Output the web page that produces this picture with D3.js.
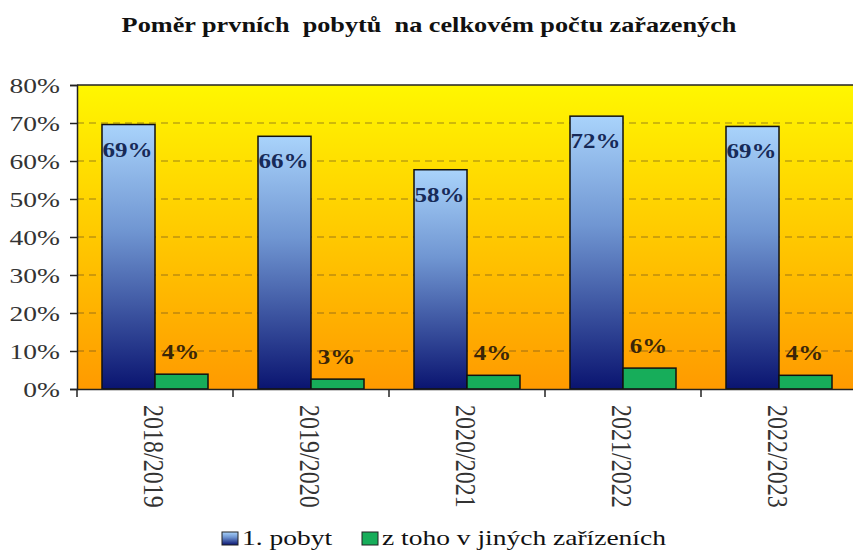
<!DOCTYPE html>
<html lang="cs">
<head>
    <meta charset="UTF-8">
    <title>Poměr prvních pobytů</title>
    <script src="https://d3js.org/d3.v7.min.js"></script>
    <style>
        body { margin: 0; background: #fff; }
        text { font-family: "Liberation Serif", "Times New Roman", serif; }
        .grid line { stroke: #6a5020; stroke-dasharray: 7,5; stroke-width: 1; opacity: 0.65; }
    </style>
</head>
<body>
    <svg width="853" height="554"></svg>
    <script>
        const width = 853, height = 554;
        const years = ["2018/2019", "2019/2020", "2020/2021", "2021/2022", "2022/2023"];
        const firstStay = [69.6, 66.5, 57.7, 71.8, 69.1];
        const otherFacility = [3.9, 2.6, 3.6, 5.5, 3.6];
        const firstLabels = ["69%", "66%", "58%", "72%", "69%"];
        const otherLabels = ["4%", "3%", "4%", "6%", "4%"];
        const seriesNames = ["1. pobyt", "z toho v jiných zařízeních"];
        const yTicks = [0, 10, 20, 30, 40, 50, 60, 70, 80];

        const svg = d3.select("svg");
        const plotLeft = 77, plotRight = 857, plotTop = 85, plotBottom = 389;
        const sx = 1.25; // the original text is drawn wide

        const defs = svg.append("defs");
        const bg = defs.append("linearGradient").attr("id", "bg")
            .attr("x1", 0).attr("y1", 0).attr("x2", 0).attr("y2", 1);
        bg.append("stop").attr("offset", "0%").attr("stop-color", "#fff700");
        bg.append("stop").attr("offset", "100%").attr("stop-color", "#ff9a00");
        const blue = defs.append("linearGradient").attr("id", "blue")
            .attr("x1", 0).attr("y1", 0).attr("x2", 0).attr("y2", 1);
        blue.append("stop").attr("offset", "0%").attr("stop-color", "#a9d3fb");
        blue.append("stop").attr("offset", "40%").attr("stop-color", "#7096d2");
        blue.append("stop").attr("offset", "100%").attr("stop-color", "#0a1470");

        const x = d3.scaleBand().domain(years).range([plotLeft, plotRight]);
        const y = d3.scaleLinear().domain([0, 80]).range([plotBottom, plotTop]);
        const barW = 53, offset = 25;

        // background
        svg.append("rect").attr("x", plotLeft).attr("y", plotTop)
            .attr("width", plotRight - plotLeft).attr("height", plotBottom - plotTop)
            .attr("fill", "url(#bg)");

        // gridlines
        svg.append("g").attr("class", "grid")
            .selectAll("line").data(yTicks.filter(d => d > 0 && d < 80)).enter()
            .append("line")
            .attr("x1", plotLeft).attr("x2", plotRight)
            .attr("y1", d => y(d)).attr("y2", d => y(d));

        svg.append("line").attr("x1", plotLeft).attr("x2", plotRight)
            .attr("y1", plotTop).attr("y2", plotTop).attr("stroke", "#222").attr("stroke-width", 1.5);

        // bars
        svg.append("g").selectAll("rect").data(years).enter().append("rect")
            .attr("x", d => x(d) + offset)
            .attr("y", (d, i) => y(firstStay[i]))
            .attr("width", barW)
            .attr("height", (d, i) => plotBottom - y(firstStay[i]))
            .attr("fill", "url(#blue)")
            .attr("stroke", "#111").attr("stroke-width", 1.5);

        svg.append("g").selectAll("rect").data(years).enter().append("rect")
            .attr("x", d => x(d) + offset + barW)
            .attr("y", (d, i) => y(otherFacility[i]))
            .attr("width", barW)
            .attr("height", (d, i) => plotBottom - y(otherFacility[i]))
            .attr("fill", "#17ad5a")
            .attr("stroke", "#111").attr("stroke-width", 1.5);

        // labels
        svg.append("g").selectAll("text").data(years).enter().append("text")
            .attr("transform", (d, i) =>
                `translate(${x(d) + offset + barW / 2 - 1},${y(firstStay[i]) + 32}) scale(${sx},1)`)
            .attr("text-anchor", "middle")
            .attr("font-size", 20).attr("font-weight", "bold")
            .attr("fill", "#172a58")
            .text((d, i) => firstLabels[i]);

        svg.append("g").selectAll("text").data(years).enter().append("text")
            .attr("transform", (d, i) =>
                `translate(${x(d) + offset + barW * 1.5 - 1},${y(otherFacility[i]) - 15}) scale(${sx},1)`)
            .attr("text-anchor", "middle")
            .attr("font-size", 20).attr("font-weight", "bold")
            .attr("fill", "#3a2608")
            .text((d, i) => otherLabels[i]);

        // axes
        const yAxis = d3.axisLeft(y).tickValues(yTicks).tickFormat(d => d + "%")
            .tickSize(7).tickPadding(0);
        const gy = svg.append("g").attr("transform", `translate(${plotLeft},0)`).call(yAxis);
        gy.select(".domain").attr("stroke", "#222").attr("stroke-width", 1.5);
        gy.selectAll(".tick line").attr("stroke", "#222").attr("stroke-width", 1.5);
        gy.selectAll("text").attr("font-size", 22).attr("fill", "#333")
            .attr("x", -17 / sx).attr("dy", "0.34em")
            .attr("transform", `scale(${sx},1)`)
            .style("font-family", "'Liberation Serif', serif");

        const xAxis = d3.axisBottom(x).tickSize(0).tickFormat("");
        const gx = svg.append("g").attr("transform", `translate(0,${plotBottom})`).call(xAxis);
        gx.select(".domain").attr("stroke", "#222").attr("stroke-width", 1.5);
        gx.selectAll(".bound").data(years.concat([""])).enter().append("line")
            .attr("x1", (d, i) => plotLeft + i * x.bandwidth())
            .attr("x2", (d, i) => plotLeft + i * x.bandwidth())
            .attr("y1", 0).attr("y2", 8)
            .attr("stroke", "#222").attr("stroke-width", 1.5);

        svg.append("g").selectAll("text").data(years).enter().append("text")
            .attr("transform", d =>
                `translate(${x(d) + x.bandwidth() / 2 - 1},${plotBottom + 16}) scale(${sx},1) rotate(90)`)
            .attr("dy", "0.34em")
            .attr("font-size", 24).attr("fill", "#333")
            .text(d => d);

        // title
        svg.append("text").attr("transform", `translate(429,32) scale(${sx},1)`)
            .attr("text-anchor", "middle")
            .attr("font-size", 21).attr("font-weight", "bold").attr("fill", "#111")
            .attr("xml:space", "preserve")
            .text("Poměr prvních  pobytů  na celkovém počtu zařazených");

        // legend
        const legendX = [222, 362];
        const lg = svg.append("g").selectAll("g").data(seriesNames).enter().append("g")
            .attr("transform", (d, i) => `translate(${legendX[i]},545)`);
        lg.append("rect").attr("x", 0).attr("y", -13).attr("width", 16).attr("height", 13)
            .attr("fill", (d, i) => i === 0 ? "url(#blue)" : "#17ad5a")
            .attr("stroke", "#222").attr("stroke-width", 1);
        lg.append("text").attr("transform", `translate(20,0) scale(${sx},1)`)
            .attr("font-size", 22).attr("fill", "#111")
            .text(d => d);
    </script>
</body>
</html>
